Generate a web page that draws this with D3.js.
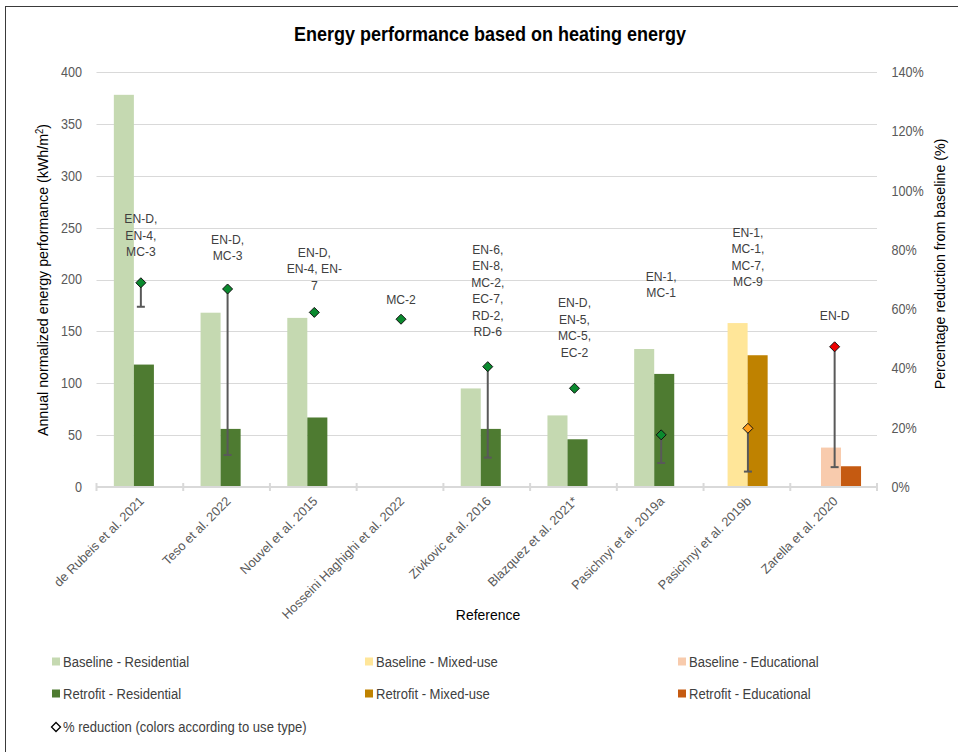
<!DOCTYPE html>
<html>
<head>
<meta charset="utf-8">
<script src="https://cdn.jsdelivr.net/npm/d3@7"></script>
<style>
  body { margin: 0; background: #fff; }
  svg text { font-family: 'Liberation Sans', Arial, sans-serif; }
</style>
</head>
<body>
<div id="chart"></div>
<script>
// values
const references = ['de Rubeis et al. 2021', 'Teso et al. 2022', 'Nouvel et al. 2015', 'Hosseini Haghighi et al. 2022',
    'Zivkovic et al. 2016', 'Blazquez et al. 2021*', 'Pasichnyi et al. 2019a', 'Pasichnyi et al. 2019b', 'Zarella et al. 2020'];
const useType = ['res', 'res', 'res', 'res', 'res', 'res', 'res', 'mix', 'edu'];
const baseline = [378, 168, 163, null, 95, 69, 133, 158, 38];
const retrofit = [118, 56, 67, null, 56, 46, 109, 127, 20];
const reduction = [68.9, 66.8, 58.9, 56.6, 40.6, 33.3, 17.6, 19.8, 47.3];
const reductionLow = [60.8, 10.8, null, null, 9.9, null, 8.1, 5.2, 6.7];
const measures = [
    ['EN-D,', 'EN-4,', 'MC-3'],
    ['EN-D,', 'MC-3'],
    ['EN-D,', 'EN-4, EN-', '7'],
    ['MC-2'],
    ['EN-6,', 'EN-8,', 'MC-2,', 'EC-7,', 'RD-2,', 'RD-6'],
    ['EN-D,', 'EN-5,', 'MC-5,', 'EC-2'],
    ['EN-1,', 'MC-1'],
    ['EN-1,', 'MC-1,', 'MC-7,', 'MC-9'],
    ['EN-D']
];
// where the last line of each measure label sits, in kWh/m2
const measureAt = [226.8, 222.7, 194.4, 181.2, 149.7, 130.1, 187.3, 197.6, 165.1];
const leftTicks = [0, 50, 100, 150, 200, 250, 300, 350, 400];
const rightTicks = [0, 0.2, 0.4, 0.6, 0.8, 1.0, 1.2, 1.4];

const seriesOrder = ['base-res', 'base-mix', 'base-edu', 'retro-res', 'retro-mix', 'retro-edu'];
const colors = {
    'base-res': '#c5d9b1', 'base-mix': '#ffe699', 'base-edu': '#f8cbad',
    'retro-res': '#4e7b31', 'retro-mix': '#bf8200', 'retro-edu': '#c55a11'
};
const diamondColors = { res: '#0a8a2e', mix: '#ff9f1c', edu: '#ee0000' };

const W = 958, H = 752;
const margin = { left: 96.5, right: 81, top: 72, bottom: 265 };
const squeeze = 'scale(0.9,1)';  // the picture's text is a bit narrow

const svg = d3.select('#chart').append('svg')
    .attr('width', W)
    .attr('height', H);

svg.append('rect')
    .attr('x', 5.5).attr('y', 6.5)
    .attr('width', 1000).attr('height', 800)
    .attr('fill', 'none')
    .attr('stroke', '#3a3a3a')
    .attr('stroke-width', 1);

const x = d3.scaleBand()
    .domain(references)
    .range([margin.left, W - margin.right]);

const sub = d3.scaleBand()
    .domain(seriesOrder)
    .range([-x.bandwidth() * 0.3, x.bandwidth() * 0.162]);
const barW = sub.step() * 3;

const y = d3.scaleLinear().domain([0, 400]).range([H - margin.bottom, margin.top]);
const y2 = d3.scaleLinear().domain([0, 1.4]).range([H - margin.bottom, margin.top]);

function label(parent, px, py, str, size, anchor) {
    return parent.append('g')
        .attr('transform', 'translate(' + px + ',' + py + ') ' + squeeze)
        .append('text')
        .attr('text-anchor', anchor || 'start')
        .style('font-size', size + 'px')
        .text(str);
}

// title
label(svg, 490, 41, 'Energy performance based on heating energy', 20, 'middle')
    .style('font-weight', 'bold')
    .style('fill', '#000');

// gridlines
svg.append('g')
    .selectAll('line')
    .data(leftTicks.slice(1))
    .enter()
    .append('line')
    .attr('x1', margin.left).attr('x2', W - margin.right)
    .attr('y1', d => Math.round(y(d)) + 0.5)
    .attr('y2', d => Math.round(y(d)) + 0.5)
    .attr('stroke', '#d9d9d9')
    .attr('stroke-width', 1);

// left ticks
const yAxis = svg.append('g')
    .attr('transform', 'translate(' + margin.left + ',0)')
    .call(d3.axisLeft(y).tickValues(leftTicks).tickSize(0).tickPadding(16));
yAxis.select('.domain').remove();
yAxis.selectAll('text')
    .attr('transform', squeeze)
    .style('fill', '#595959')
    .style('font-size', '14px')
    .style('font-family', "'Liberation Sans', Arial, sans-serif");

// right ticks
const y2Axis = svg.append('g')
    .attr('transform', 'translate(' + (W - margin.right) + ',0)')
    .call(d3.axisRight(y2).tickValues(rightTicks).tickSize(0).tickPadding(16).tickFormat(d3.format('.0%')));
y2Axis.select('.domain').remove();
y2Axis.selectAll('text')
    .attr('transform', squeeze)
    .style('fill', '#595959')
    .style('font-size', '14px')
    .style('font-family', "'Liberation Sans', Arial, sans-serif");

// bars
const bars = [];
references.forEach((r, i) => {
    if (baseline[i] != null) bars.push({ ref: r, key: 'base-' + useType[i], v: baseline[i] });
    if (retrofit[i] != null) bars.push({ ref: r, key: 'retro-' + useType[i], v: retrofit[i] });
});

svg.append('g')
    .selectAll('rect')
    .data(bars)
    .enter()
    .append('rect')
    .attr('x', d => x(d.ref) + x.bandwidth() / 2 + sub(d.key))
    .attr('y', d => y(d.v))
    .attr('width', barW)
    .attr('height', d => y(0) - y(d.v))
    .attr('fill', d => colors[d.key]);

// category axis
const xAxisG = svg.append('g');
xAxisG.append('line')
    .attr('x1', margin.left).attr('x2', W - margin.right)
    .attr('y1', y(0)).attr('y2', y(0))
    .attr('stroke', '#d9d9d9')
    .attr('stroke-width', 2);
xAxisG.selectAll('.xtick')
    .data(references.map(r => x(r)).concat([W - margin.right]))
    .enter()
    .append('line')
    .attr('x1', d => d).attr('x2', d => d)
    .attr('y1', y(0) - 4).attr('y2', y(0) + 4)
    .attr('stroke', '#d9d9d9')
    .attr('stroke-width', 2);

xAxisG.selectAll('.xlabel')
    .data(references)
    .enter()
    .append('text')
    .attr('text-anchor', 'end')
    .attr('transform', d => 'translate(' + (x(d) + x.bandwidth() / 2 + 5) + ',' + (y(0) + 15) + ') rotate(-45)')
    .style('fill', '#595959')
    .style('font-size', '12.8px')
    .text(d => d);

// error bars (minus only)
const errs = references.map((r, i) => ({ ref: r, hi: reduction[i], lo: reductionLow[i] })).filter(d => d.lo != null);
const errG = svg.append('g');
errG.selectAll('.err')
    .data(errs)
    .enter()
    .append('line')
    .attr('x1', d => x(d.ref) + x.bandwidth() / 2 + 1)
    .attr('x2', d => x(d.ref) + x.bandwidth() / 2 + 1)
    .attr('y1', d => y2(d.hi / 100))
    .attr('y2', d => y2(d.lo / 100))
    .attr('stroke', '#595959')
    .attr('stroke-width', 2);
errG.selectAll('.cap')
    .data(errs)
    .enter()
    .append('line')
    .attr('x1', d => x(d.ref) + x.bandwidth() / 2 - 3)
    .attr('x2', d => x(d.ref) + x.bandwidth() / 2 + 5)
    .attr('y1', d => y2(d.lo / 100))
    .attr('y2', d => y2(d.lo / 100))
    .attr('stroke', '#595959')
    .attr('stroke-width', 2);

// diamonds
const diamond = 'M0,-5L5,0L0,5L-5,0Z';
svg.append('g')
    .selectAll('path')
    .data(references)
    .enter()
    .append('path')
    .attr('d', diamond)
    .attr('transform', (d, i) => 'translate(' + (x(d) + x.bandwidth() / 2 + 1) + ',' + y2(reduction[i] / 100) + ')')
    .attr('fill', (d, i) => diamondColors[useType[i]])
    .attr('stroke', '#111')
    .attr('stroke-width', 1);

// measure labels
const lh = 16.5;
svg.append('g')
    .selectAll('g')
    .data(references)
    .enter()
    .append('g')
    .attr('transform', (d, i) => 'translate(' + (x(d) + x.bandwidth() / 2 + 1) + ',' + (y(measureAt[i]) + 4.5) + ') ' + squeeze)
    .append('text')
    .attr('text-anchor', 'middle')
    .style('fill', '#404040')
    .style('font-size', '13.5px')
    .each(function(d, i) {
        const lines = measures[i];
        d3.select(this).selectAll('tspan')
            .data(lines)
            .enter()
            .append('tspan')
            .attr('x', 0)
            .attr('y', (l, j) => -(lines.length - 1 - j) * lh)
            .text(l => l);
    });

// axis titles
svg.append('text')
    .attr('transform', 'translate(48,280) rotate(-90) scale(0.95,1)')
    .attr('text-anchor', 'middle')
    .style('font-size', '15px')
    .style('fill', '#000')
    .html('Annual normalized energy performance (kWh/m<tspan dy="-5" style="font-size:10px">2</tspan><tspan dy="5">)</tspan>');

svg.append('text')
    .attr('transform', 'translate(945,264) rotate(-90) scale(0.95,1)')
    .attr('text-anchor', 'middle')
    .style('font-size', '15px')
    .style('fill', '#000')
    .text('Percentage reduction from baseline (%)');

label(svg, 488, 620, 'Reference', 15.5, 'middle').style('fill', '#000');

// legend
const legendItems = [
    { key: 'base-res', label: 'Baseline - Residential', col: 0, row: 0 },
    { key: 'base-mix', label: 'Baseline - Mixed-use', col: 1, row: 0 },
    { key: 'base-edu', label: 'Baseline - Educational', col: 2, row: 0 },
    { key: 'retro-res', label: 'Retrofit - Residential', col: 0, row: 1 },
    { key: 'retro-mix', label: 'Retrofit - Mixed-use', col: 1, row: 1 },
    { key: 'retro-edu', label: 'Retrofit - Educational', col: 2, row: 1 }
];
const legX = [52, 365, 678];
const legY = [661.5, 693.5, 727];

const leg = svg.append('g');
const li = leg.selectAll('g')
    .data(legendItems)
    .enter()
    .append('g')
    .attr('transform', d => 'translate(' + legX[d.col] + ',' + legY[d.row] + ')');
li.append('rect')
    .attr('x', 0).attr('y', -4)
    .attr('width', 8).attr('height', 8)
    .attr('fill', d => colors[d.key]);
li.each(function(d) {
    label(d3.select(this), 11, 5, d.label, 14.5).style('fill', '#404040');
});

const dl = leg.append('g').attr('transform', 'translate(' + (legX[0] + 4) + ',' + legY[2] + ')');
dl.append('path')
    .attr('d', 'M0,-4.5L4.5,0L0,4.5L-4.5,0Z')
    .attr('fill', '#fff')
    .attr('stroke', '#000')
    .attr('stroke-width', 1.3);
label(dl, 7, 5, '% reduction (colors according to use type)', 14.5).style('fill', '#404040');
</script>
</body>
</html>
